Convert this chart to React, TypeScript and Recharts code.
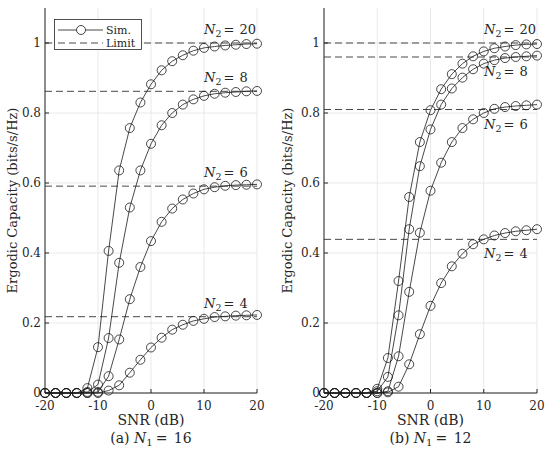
import React from 'react';
import { LineChart, Line, XAxis, YAxis, CartesianGrid, ReferenceLine, Legend } from 'recharts';

const snr = [-20, -18, -16, -14, -12, -10, -8, -6, -4, -2, 0, 2, 4, 6, 8, 10, 12, 14, 16, 18, 20];

// (a) N1 = 16
const capA20 = [0, 0, 0, 0, 0.014, 0.131, 0.406, 0.636, 0.757, 0.83, 0.882, 0.922, 0.948, 0.965, 0.978, 0.986, 0.99, 0.993, 0.995, 0.997, 0.998];
const capA8 = [0, 0, 0, 0, 0.003, 0.024, 0.157, 0.372, 0.53, 0.636, 0.712, 0.765, 0.8, 0.824, 0.839, 0.849, 0.855, 0.858, 0.86, 0.862, 0.863];
const capA6 = [0, 0, 0, 0, 0, 0.003, 0.048, 0.153, 0.268, 0.36, 0.434, 0.489, 0.527, 0.553, 0.57, 0.582, 0.588, 0.592, 0.594, 0.595, 0.596];
const capA4 = [0, 0, 0, 0, 0, 0, 0.007, 0.022, 0.058, 0.095, 0.13, 0.158, 0.181, 0.195, 0.206, 0.212, 0.217, 0.219, 0.221, 0.222, 0.223];
const limitsA = [1.0, 0.862, 0.591, 0.218];

// (b) N1 = 12
const capB20 = [0, 0, 0, 0, 0, 0.012, 0.1, 0.32, 0.56, 0.717, 0.808, 0.868, 0.911, 0.941, 0.962, 0.976, 0.985, 0.99, 0.994, 0.996, 0.997];
const capB8 = [0, 0, 0, 0, 0, 0.005, 0.046, 0.222, 0.468, 0.648, 0.753, 0.824, 0.87, 0.901, 0.925, 0.941, 0.951, 0.957, 0.96, 0.962, 0.964];
const capB6 = [0, 0, 0, 0, 0, 0, 0.005, 0.105, 0.289, 0.458, 0.578, 0.658, 0.717, 0.757, 0.782, 0.8, 0.812, 0.817, 0.82, 0.822, 0.824];
const capB4 = [0, 0, 0, 0, 0, 0, 0.002, 0.018, 0.082, 0.168, 0.249, 0.314, 0.362, 0.398, 0.425, 0.439, 0.45, 0.457, 0.462, 0.465, 0.468];
const limitsB = [1.0, 0.96, 0.81, 0.439];

const n2Values = [20, 8, 6, 4];
const sidesA = ['above', 'above', 'above', 'above'];
const sidesB = ['above', 'below', 'below', 'below'];

const xTicks = [-20, -10, 0, 10, 20];
const yTicks = [0, 0.2, 0.4, 0.6, 0.8, 1];

const FONT = 'DejaVu Serif';
const INK = '#262626';
const TXT = { fontFamily: FONT };

const buildRows = (s20: number[], s8: number[], s6: number[], s4: number[]) =>
  snr.map((s, i) => ({ snr: s, n20: s20[i], n8: s8[i], n6: s6[i], n4: s4[i] }));

const dataA = buildRows(capA20, capA8, capA6, capA4);
const dataB = buildRows(capB20, capB8, capB6, capB4);

const NLabel = (props: any) => {
  const { viewBox, n, side } = props;
  if (!viewBox) return null;
  const x = viewBox.x + viewBox.width - 53;
  const y = side === 'above' ? viewBox.y - 9 : viewBox.y + 19;
  return (
    <text x={x} y={y} textAnchor="start" style={TXT} fontSize={13} fill={INK}>
      <tspan fontStyle="italic">N</tspan>
      <tspan fontSize={9.5} dy={3}>2</tspan>
      <tspan dy={-3} dx={2}>{'= '}</tspan>
      <tspan dx={1}>{String(n)}</tspan>
    </text>
  );
};

const YLabel = (props: any) => {
  const { viewBox } = props;
  if (!viewBox) return null;
  const cx = 12;
  const cy = viewBox.y + viewBox.height / 2;
  return (
    <text x={cx} y={cy} transform={`rotate(-90 ${cx} ${cy})`} textAnchor="middle" dominantBaseline="central" style={TXT} fontSize={13} fill={INK}>
      Ergodic Capacity (bits/s/Hz)
    </text>
  );
};

const XLabel = (props: any) => {
  const { viewBox, letter, n1 } = props;
  if (!viewBox) return null;
  const cx = viewBox.x + viewBox.width / 2;
  return (
    <g>
      <text x={cx} y={viewBox.y + 32} textAnchor="middle" style={TXT} fontSize={14} fill={INK}>
        SNR (dB)
      </text>
      <text x={cx} y={viewBox.y + 50} textAnchor="middle" style={TXT} fontSize={14} fill={INK}>
        <tspan>{'(' + letter + ') '}</tspan>
        <tspan fontStyle="italic">N</tspan>
        <tspan fontSize={10} dy={3}>1</tspan>
        <tspan dy={-3} dx={3}>{'= '}</tspan>
        <tspan dx={2}>{String(n1)}</tspan>
      </text>
    </g>
  );
};

const LegendBox = () => (
  <svg width={88} height={31} style={{ display: 'block', background: '#fff' }}>
    <rect x={0.5} y={0.5} width={87} height={30} fill="#fff" stroke={INK} strokeWidth={0.8} />
    <line x1={4} y1={11} x2={49} y2={11} stroke="#1a1a1a" strokeWidth={0.8} />
    <circle cx={27} cy={11} r={4.5} fill="#fff" stroke="#1a1a1a" strokeWidth={0.8} />
    <text x={52} y={15} style={TXT} fontSize={11} fill={INK}>Sim.</text>
    <line x1={4} y1={24} x2={49} y2={24} stroke="#333" strokeWidth={0.9} strokeDasharray="7 4" />
    <text x={52} y={28} style={TXT} fontSize={11} fill={INK}>Limit</text>
  </svg>
);

const seriesKeys = ['n20', 'n8', 'n6', 'n4'];

type PanelProps = {
  data: any[];
  limits: number[];
  sides: string[];
  letter: string;
  n1: number;
  yAxisWidth: number;
  rightMargin: number;
  showLegend: boolean;
};

const tickStyle = { fontFamily: FONT, fontSize: 12, fill: INK, style: TXT };

const Panel = ({ data, limits, sides, letter, n1, yAxisWidth, rightMargin, showLegend }: PanelProps) => (
  <LineChart width={275} height={452} data={data} margin={{ top: 8, right: rightMargin, bottom: 0, left: 0 }} style={TXT}>
    <CartesianGrid stroke="#e3e3e3" strokeWidth={0.8} horizontalValues={yTicks} verticalValues={xTicks} />
    <XAxis
      dataKey="snr"
      type="number"
      domain={[-20, 20]}
      ticks={xTicks}
      height={59}
      tickSize={-4}
      tickMargin={12}
      stroke={INK}
      tick={tickStyle}
      tickFormatter={(v: number) => String(v)}
      label={<XLabel letter={letter} n1={n1} />}
    />
    <XAxis xAxisId="top" orientation="top" dataKey="snr" type="number" domain={[-20, 20]} ticks={xTicks} height={0} tickSize={-4} tick={false} stroke={INK} />
    <YAxis
      type="number"
      domain={[0, 1.1]}
      ticks={yTicks}
      width={yAxisWidth}
      tickSize={-4}
      tickMargin={8}
      stroke={INK}
      tick={tickStyle}
      tickFormatter={(v: number) => String(v)}
      label={<YLabel />}
    />
    <YAxis yAxisId="right" orientation="right" type="number" domain={[0, 1.1]} ticks={yTicks} width={0} tickSize={-4} tick={false} stroke={INK} />
    {limits.map((lv, i) => (
      <ReferenceLine
        key={'lim' + i}
        y={lv}
        stroke="#333"
        strokeWidth={0.9}
        strokeDasharray="7 4"
        label={<NLabel n={n2Values[i]} side={sides[i]} />}
      />
    ))}
    {seriesKeys.map((k) => (
      <Line
        key={k}
        dataKey={k}
        type="linear"
        stroke="#1a1a1a"
        strokeWidth={0.8}
        dot={{ r: 4.5, fill: 'none', stroke: '#1a1a1a', strokeWidth: 0.8 }}
        activeDot={false}
        isAnimationActive={false}
        legendType="none"
      />
    ))}
    {showLegend && (
      <Legend
        layout="vertical"
        align="center"
        verticalAlign="middle"
        wrapperStyle={{ left: 54, top: 19, width: 88, height: 31 }}
        content={() => <LegendBox />}
      />
    )}
  </LineChart>
);

export default function App() {
  return (
    <div style={{ position: 'absolute', left: 0, top: 0, width: 550, height: 452, background: '#fff', fontFamily: FONT }}>
      <div style={{ position: 'absolute', left: 0, top: 0 }}>
        <Panel data={dataA} limits={limitsA} sides={sidesA} letter="a" n1={16} yAxisWidth={45} rightMargin={18} showLegend={true} />
      </div>
      <div style={{ position: 'absolute', left: 275, top: 0 }}>
        <Panel data={dataB} limits={limitsB} sides={sidesB} letter="b" n1={12} yAxisWidth={49} rightMargin={13} showLegend={false} />
      </div>
    </div>
  );
}
